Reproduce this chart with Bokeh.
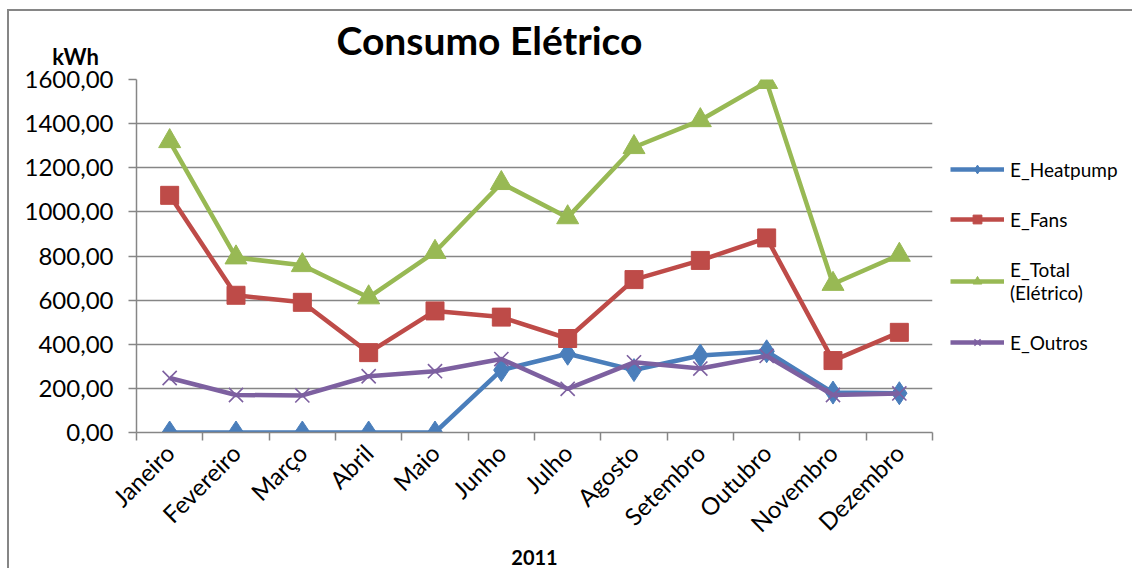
from math import pi
from bokeh.plotting import figure
from bokeh.models import (Range1d, LinearAxis, FixedTicker, CustomJSTickFormatter,
                          Legend, LegendItem, Label, Grid)
from bokeh.embed import file_html
from bokeh.resources import INLINE

# ---- data ----
months = ["Janeiro", "Fevereiro", "Março", "Abril", "Maio", "Junho",
          "Julho", "Agosto", "Setembro", "Outubro", "Novembro", "Dezembro"]
e_heatpump = [0, 0, 0, 0, 0, 283, 357, 283, 349, 368, 181, 178]
e_fans = [1075, 622, 590, 362, 551, 523, 426, 693, 780, 882, 326, 454]
e_total = [1320, 793, 758, 612, 818, 1130, 975, 1293, 1415, 1588, 673, 805]
e_outros = [247, 170, 168, 255, 278, 333, 198, 318, 290, 347, 170, 177]
y_ticks = [0, 200, 400, 600, 800, 1000, 1200, 1400, 1600]
series_names = ["E_Heatpump", "E_Fans", "E_Total\n(Elétrico)", "E_Outros"]

FONT = "Lato"
GRAY = "#868686"
BLUE = "#4A7EBB"
RED = "#BE4B48"
GREEN = "#98B954"
PURPLE = "#7D60A0"

n = len(months)
xc = [i + 0.5 for i in range(n)]          # category centres on the x scale

p = figure(frame_width=796, frame_height=353,
           x_range=Range1d(0, n),
           y_range=Range1d(y_ticks[0], y_ticks[-1]),
           x_axis_location=None, y_axis_location=None,
           output_backend="svg", toolbar_location=None,
           min_border_left=127, min_border_right=200,
           min_border_top=68, min_border_bottom=136)
p.outline_line_color = None
p.center = [r for r in p.center if not isinstance(r, Grid)]
p.styles = {"border-left": "2px solid #868686", "border-top": "2px solid #868686",
            "margin-left": "7px", "margin-top": "9px"}

# title
p.title.text = "Consumo Elétrico"
p.title.align = "left"
p.title.offset = 200
p.title.standoff = -21
p.title.text_font = FONT
p.title.text_font_size = "39px"
p.title.text_font_style = "bold"
p.title.text_color = "black"

# y axis
yaxis = LinearAxis(ticker=FixedTicker(ticks=y_ticks),
                   formatter=CustomJSTickFormatter(code="return tick.toFixed(2).replace('.', ',');"),
                   axis_line_color=GRAY, axis_line_width=1.5,
                   major_tick_out=8, major_tick_in=0, major_tick_line_color=GRAY,
                   major_tick_line_width=1.5, minor_tick_line_color=None,
                   major_label_standoff=15, major_label_text_font=FONT,
                   major_label_text_font_size="24px", major_label_text_color="black")
p.add_layout(yaxis, "left")
p.add_layout(Grid(dimension=1, axis=yaxis, grid_line_color=GRAY, grid_line_width=1.5), "center")

# x axis: labels at centres, tick marks at category boundaries
xaxis = LinearAxis(ticker=FixedTicker(ticks=xc, minor_ticks=list(range(n + 1))),
                   formatter=CustomJSTickFormatter(args=dict(months=months),
                                                   code="return months[Math.floor(tick)];"),
                   axis_line_color=GRAY, axis_line_width=1.5,
                   major_tick_line_color=None, major_tick_out=0, major_tick_in=0,
                   minor_tick_line_color=GRAY, minor_tick_line_width=1.5,
                   minor_tick_out=8, minor_tick_in=0,
                   major_label_orientation=pi / 4, major_label_standoff=8,
                   major_label_text_font=FONT, major_label_text_font_size="24px",
                   major_label_text_color="black",
                   axis_label="2011", axis_label_text_font=FONT,
                   axis_label_text_font_size="20px", axis_label_text_font_style="bold",
                   axis_label_text_color="black", axis_label_standoff=0)
p.add_layout(xaxis, "below")

# kWh label (placed in the panel above the plot area, anchored on the top of the y scale)
p.add_layout(Label(x=-61, y=y_ticks[-1], x_units="screen", y_units="data", y_offset=23,
                   text="kWh", text_align="center", text_baseline="alphabetic",
                   text_font=FONT, text_font_size="22px", text_font_style="bold",
                   text_color="black"), "above")

# series
specs = [(e_heatpump, BLUE, "diamond", 23, 0),
         (e_fans, RED, "square", 18, 0),
         (e_total, GREEN, "triangle", 22, 0),
         (e_outros, PURPLE, "x", 20, 1.6)]
items = []
for name, (vals, col, mk, sz, lw) in zip(series_names, specs):
    ln = p.line(xc, vals, line_color=col, line_width=4.5, line_join="round")
    if mk == "x":
        sc = p.scatter(xc, vals, marker=mk, size=sz, line_color=col, line_width=lw)
    else:
        sc = p.scatter(xc, vals, marker=mk, size=sz, fill_color=col, line_color=col)
    items.append(LegendItem(label=name, renderers=[ln, sc]))

legend = Legend(items=items, location="center_left", border_line_color=None,
                background_fill_alpha=0, label_text_font=FONT, label_text_font_size="19px",
                label_text_color="black", glyph_width=54, glyph_height=22,
                label_standoff=6, spacing=27, margin=18, padding=10)
p.add_layout(legend, "right")

open("out.html", "w").write(file_html(p, INLINE))
